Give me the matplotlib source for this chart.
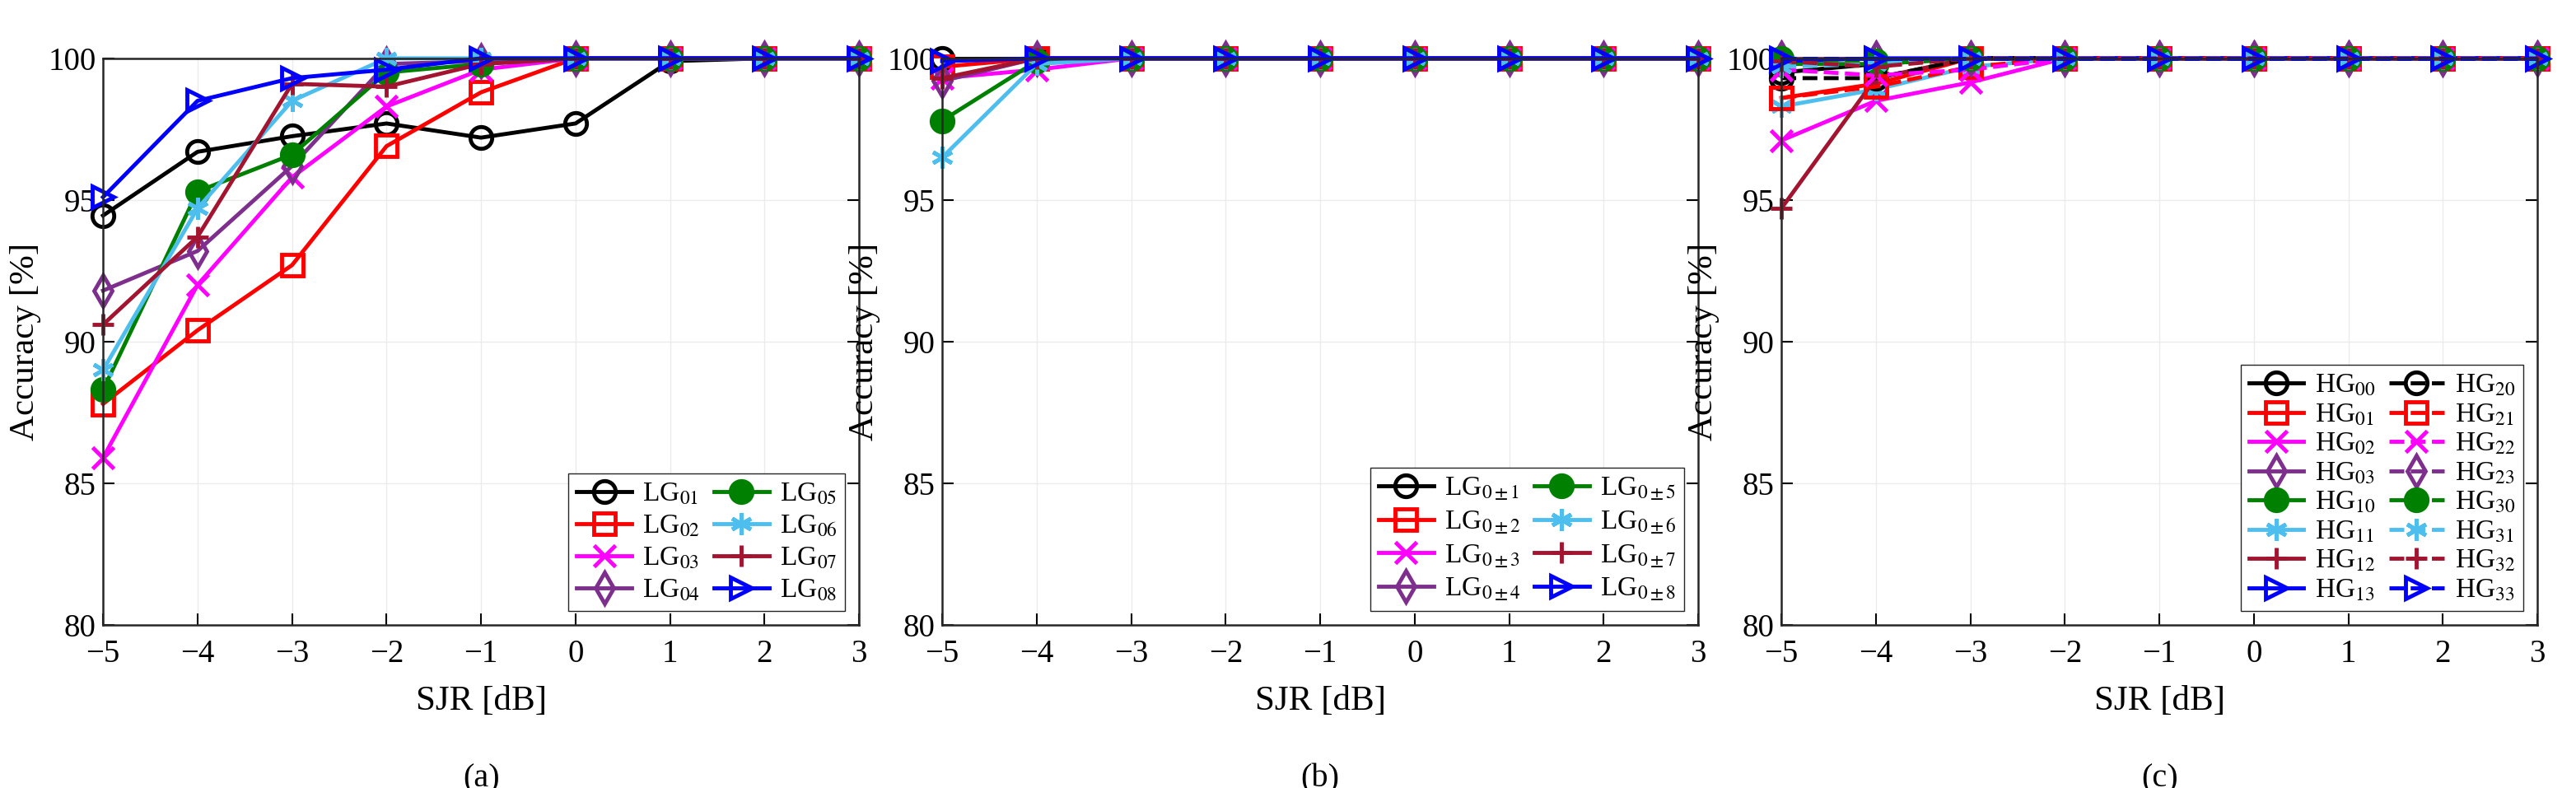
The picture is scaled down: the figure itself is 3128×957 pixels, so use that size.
import numpy as np
import matplotlib
matplotlib.use('Agg')
import matplotlib.pyplot as plt

plt.rcParams['font.family'] = ['Liberation Serif', 'DejaVu Serif']
plt.rcParams['mathtext.fontset'] = 'stix'

snr = [-5, -4, -3, -2, -1, 0, 1, 2, 3]

# panel (a)
lg_a = {
    '01': [94.45, 96.7, 97.25, 97.7, 97.2, 97.7, 99.9, 100, 100],
    '02': [87.8, 90.4, 92.7, 96.9, 98.8, 100, 100, 100, 100],
    '03': [85.9, 92.0, 95.8, 98.3, 99.6, 100, 100, 100, 100],
    '04': [91.8, 93.2, 96.2, 99.8, 99.9, 100, 100, 100, 100],
    '05': [88.3, 95.3, 96.6, 99.5, 99.8, 100, 100, 100, 100],
    '06': [89.0, 94.7, 98.5, 100, 100, 100, 100, 100, 100],
    '07': [90.6, 93.7, 99.1, 99.0, 99.8, 100, 100, 100, 100],
    '08': [95.1, 98.5, 99.3, 99.6, 100, 100, 100, 100, 100],
}

# panel (b)
lg_b = {
    r'0\pm1': [100, 100, 100, 100, 100, 100, 100, 100, 100],
    r'0\pm2': [99.7, 100, 100, 100, 100, 100, 100, 100, 100],
    r'0\pm3': [99.3, 99.6, 100, 100, 100, 100, 100, 100, 100],
    r'0\pm4': [99.2, 100, 100, 100, 100, 100, 100, 100, 100],
    r'0\pm5': [97.8, 99.9, 100, 100, 100, 100, 100, 100, 100],
    r'0\pm6': [96.5, 99.8, 100, 100, 100, 100, 100, 100, 100],
    r'0\pm7': [99.3, 100, 100, 100, 100, 100, 100, 100, 100],
    r'0\pm8': [99.9, 100, 100, 100, 100, 100, 100, 100, 100],
}

# panel (c)
hg_solid = {
    '00': [99.5, 99.8, 100, 100, 100, 100, 100, 100, 100],
    '01': [98.6, 99.1, 100, 100, 100, 100, 100, 100, 100],
    '02': [97.1, 98.5, 99.15, 100, 100, 100, 100, 100, 100],
    '03': [100, 100, 100, 100, 100, 100, 100, 100, 100],
    '10': [99.8, 99.8, 100, 100, 100, 100, 100, 100, 100],
    '11': [98.3, 98.9, 99.7, 100, 100, 100, 100, 100, 100],
    '12': [94.7, 99.3, 100, 100, 100, 100, 100, 100, 100],
    '13': [99.9, 100, 100, 100, 100, 100, 100, 100, 100],
}
hg_dashed = {
    '20': [99.3, 99.3, 100, 100, 100, 100, 100, 100, 100],
    '21': [98.6, 99.0, 99.7, 100, 100, 100, 100, 100, 100],
    '22': [99.6, 99.4, 99.6, 100, 100, 100, 100, 100, 100],
    '23': [100, 100, 100, 100, 100, 100, 100, 100, 100],
    '30': [100, 99.9, 100, 100, 100, 100, 100, 100, 100],
    '31': [99.7, 99.8, 100, 100, 100, 100, 100, 100, 100],
    '32': [99.9, 99.7, 100, 100, 100, 100, 100, 100, 100],
    '33': [100, 100, 100, 100, 100, 100, 100, 100, 100],
}

colors = ['black', 'red', '#FF00FF', '#7E2F8E', 'green', '#4DBEEE', '#A2142F', 'blue']
markers = ['o', 's', 'x', 'd', 'o', (6, 2, 0), '+', '>']
filled = [False, False, True, False, True, True, True, False]


def draw(ax, series, prefix, ls='-'):
    for i, (k, v) in enumerate(series.items()):
        c = colors[i]
        ax.plot(snr, v, ls=ls, color=c, lw=3.5, marker=markers[i], ms=19, mew=3.5,
                mfc=(c if filled[i] else 'none'), mec=c,
                label=r'%s$_{%s}$' % (prefix, k))


fig, axes = plt.subplots(1, 3, figsize=(31.28, 9.57), dpi=100)
fig.subplots_adjust(left=0.04, right=0.985, top=0.926, bottom=0.207, wspace=0.11)

draw(axes[0], lg_a, 'LG')
draw(axes[1], lg_b, 'LG')
draw(axes[2], hg_solid, 'HG')
draw(axes[2], hg_dashed, 'HG', ls='--')

for ax, lab in zip(axes, ['(a)', '(b)', '(c)']):
    ax.set_xlim(-5, 3)
    ax.set_ylim(80, 100)
    ax.set_xticks(snr)
    ax.set_yticks([80, 85, 90, 95, 100])
    ax.set_xticklabels(['\u2212%d' % -t if t < 0 else str(t) for t in snr])
    ax.grid(True, color='#ebebeb', lw=1)
    ax.tick_params(labelsize=28, direction='in', length=10, width=1.5, right=True)
    ax.tick_params(axis='x', pad=12)
    ax.tick_params(axis='y', pad=6)
    for s in ax.spines.values():
        s.set_linewidth(1.8)
        s.set_color('#262626')
    for l in ax.lines:
        l.set_clip_on(False)
    ax.set_xlabel('SJR [dB]', fontsize=31, labelpad=14)
    ax.set_ylabel('Accuracy [%]', fontsize=31, labelpad=6)
    ax.text(0.5, -0.245, lab, transform=ax.transAxes, ha='center', va='top', fontsize=29)

for ax in axes[:2]:
    ax.legend(loc='lower right', ncol=2, fontsize=24, framealpha=1, fancybox=False,
              edgecolor='#262626', handlelength=2.0, columnspacing=0.5, labelspacing=0.25,
              handletextpad=0.4, borderpad=0.3)
axes[2].legend(loc='lower right', ncol=2, fontsize=24, framealpha=1, fancybox=False,
               edgecolor='#262626', handlelength=2.0, columnspacing=0.5, labelspacing=0.15,
               handletextpad=0.4, borderpad=0.3)

fig.savefig('out.png', dpi=100)
